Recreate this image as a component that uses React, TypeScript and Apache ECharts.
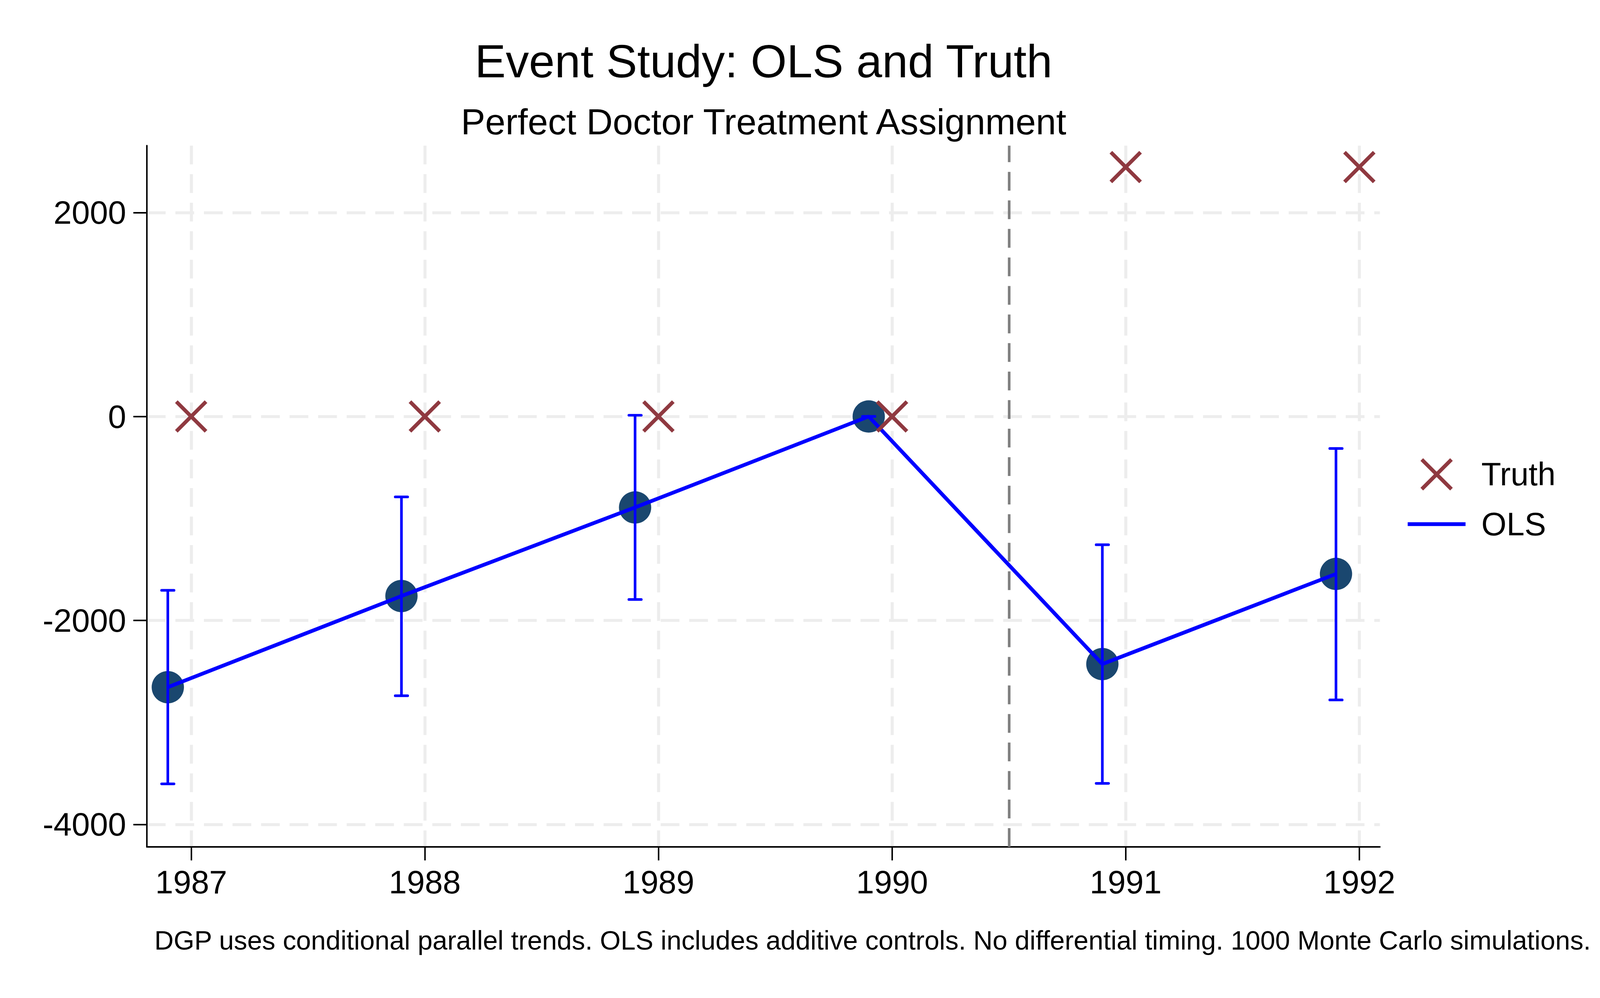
import React, { useEffect, useRef, useState } from "react";
import * as echarts from "echarts";

// ---- data ----
const years = [1987, 1988, 1989, 1990, 1991, 1992];
const olsX = [1986.9, 1987.9, 1988.9, 1989.9, 1990.9, 1991.9];
const olsEst = [-2655, -1761, -892, 0, -2428, -1544];
const ciLow = [-3603, -2739, -1795, 0, -3598, -2780];
const ciHigh = [-1705, -789, 12, 0, -1258, -314];
const truth = [0, 0, 0, 0, 2446, 2446];
const yTicks = [-4000, -2000, 0, 2000];
const treatLine = 1990.5;

const titleText = "Event Study: OLS and Truth";
const subtitleText = "Perfect Doctor Treatment Assignment";
const noteText =
  "DGP uses conditional parallel trends. OLS includes additive controls. No differential timing. 1000 Monte Carlo simulations.";

const FONT = "'Liberation Sans', Arial, Helvetica, sans-serif";
const BLUE = "#0000ff";
const NAVY = "#1a476f";
const CRAN = "#8f3940";
const GRID = "#ededed";

const REF_W = 4260;
const REF_H = 2556;

export default function App() {
  const ref = useRef<HTMLDivElement>(null);
  const [size] = useState(() => ({
    w: typeof window !== "undefined" ? window.innerWidth : REF_W,
    h: typeof window !== "undefined" ? window.innerHeight : REF_H,
  }));

  useEffect(() => {
    if (!ref.current) return;
    const chart = echarts.init(ref.current, undefined, { renderer: "svg" });
    const k = size.w / REF_W;
    const ky = size.h / REF_H;
    const s = (v: number) => v * k;
    const sy = (v: number) => v * ky;

    const olsData = olsX.map((x, i) => [x, olsEst[i]]);
    const ciData = olsX.map((x, i) => [x, ciLow[i], ciHigh[i]]);
    const truthData = years.map((x, i) => [x, truth[i]]);
    const dash = [s(50), s(26)];

    const option: any = {
      animation: false,
      backgroundColor: "#ffffff",
      grid: { left: s(391), right: s(586), top: sy(373), bottom: sy(387), containLabel: false },
      graphic: [
        {
          type: "text",
          x: s(2033),
          y: sy(157),
          style: {
            text: titleText,
            font: `${s(123.5)}px ${FONT}`,
            fill: "#000",
            textAlign: "center",
            textVerticalAlign: "middle",
          },
        },
        {
          type: "text",
          x: s(2033),
          y: sy(312),
          style: {
            text: subtitleText,
            font: `${s(97)}px ${FONT}`,
            fill: "#000",
            textAlign: "center",
            textVerticalAlign: "middle",
          },
        },
        {
          type: "text",
          x: s(411),
          y: sy(2408),
          style: {
            text: noteText,
            font: `${s(71)}px ${FONT}`,
            fill: "#000",
            textAlign: "left",
            textVerticalAlign: "middle",
          },
        },
      ],
      legend: {
        orient: "vertical",
        left: s(3743),
        top: sy(1172),
        itemWidth: s(154),
        itemHeight: s(79),
        itemGap: s(45),
        padding: 0,
        selectedMode: false,
        textStyle: {
          fontSize: s(86),
          fontFamily: FONT,
          color: "#000",
          rich: { g: { width: s(37), fontSize: s(86), fontFamily: FONT } },
        },
        formatter: (n: string) => "{g| }" + n,
        data: [
          {
            name: "Truth",
            itemStyle: { borderWidth: s(10), borderColor: CRAN, color: "rgba(0,0,0,0)", opacity: 1 },
          },
          {
            name: "OLS",
            lineStyle: { width: s(10), color: BLUE },
            itemStyle: { color: "rgba(0,0,0,0)", borderWidth: 0, borderColor: "rgba(0,0,0,0)" },
          },
        ],
      },
      xAxis: {
        type: "value",
        min: 1986.8103,
        max: 1992.088,
        axisLine: { show: true, onZero: false, lineStyle: { color: "#000", width: s(4) } },
        axisTick: { show: true, length: s(36), lineStyle: { color: "#000", width: s(4) }, customValues: years },
        axisLabel: {
          customValues: years,
          formatter: (v: number) => String(v),
          fontSize: s(86),
          fontFamily: FONT,
          color: "#000",
          margin: s(51),
        },
        splitLine: { show: true, lineStyle: { color: GRID, width: s(8), type: dash } },
      },
      yAxis: {
        type: "value",
        min: -4221,
        max: 2656,
        axisLine: { show: true, onZero: false, lineStyle: { color: "#000", width: s(4) } },
        axisTick: { show: true, length: s(36), lineStyle: { color: "#000", width: s(4) }, customValues: yTicks },
        axisLabel: {
          customValues: yTicks,
          formatter: (v: number) => String(v),
          fontSize: s(87),
          fontFamily: FONT,
          color: "#000",
          margin: s(55),
        },
        splitLine: { show: true, lineStyle: { color: GRID, width: s(8), type: dash } },
      },
      series: [
        {
          name: "olsPoints",
          type: "scatter",
          data: olsData,
          symbol: "circle",
          symbolSize: s(86),
          itemStyle: { color: NAVY, opacity: 1 },
          z: 2,
          silent: true,
          markLine: {
            silent: true,
            symbol: ["none", "none"],
            label: { show: false },
            lineStyle: { color: "#808080", width: s(7), type: dash, opacity: 1 },
            data: [{ xAxis: treatLine }],
          },
        },
        {
          name: "ci",
          type: "custom",
          data: ciData,
          z: 3,
          silent: true,
          renderItem: (params: any, api: any) => {
            const x = api.value(0);
            const lo = api.value(1);
            const hi = api.value(2);
            const pLo = api.coord([x, lo]);
            const pHi = api.coord([x, hi]);
            const half = s(16.5);
            const st = { stroke: BLUE, lineWidth: s(7) };
            const cap = { stroke: BLUE, lineWidth: s(7), lineCap: "round" };
            return {
              type: "group",
              children: [
                { type: "line", shape: { x1: pLo[0], y1: pLo[1], x2: pHi[0], y2: pHi[1] }, style: st },
                { type: "line", shape: { x1: pLo[0] - half, y1: pLo[1], x2: pLo[0] + half, y2: pLo[1] }, style: cap },
                { type: "line", shape: { x1: pHi[0] - half, y1: pHi[1], x2: pHi[0] + half, y2: pHi[1] }, style: cap },
              ],
            };
          },
        },
        {
          name: "OLS",
          type: "line",
          data: olsData,
          symbol: "none",
          lineStyle: { color: BLUE, width: s(10) },
          itemStyle: { color: BLUE },
          z: 4,
          silent: true,
        },
        {
          name: "Truth",
          type: "scatter",
          data: truthData,
          symbol: "path://M0,0L100,100M100,0L0,100",
          symbolSize: s(79),
          itemStyle: { color: "rgba(0,0,0,0)", borderColor: CRAN, borderWidth: s(10), opacity: 1 },
          z: 5,
          silent: true,
        },
      ],
    };

    chart.setOption(option);
    return () => chart.dispose();
  }, [size]);

  return (
    <div
      ref={ref}
      style={{ position: "fixed", left: 0, top: 0, width: size.w, height: size.h, background: "#fff" }}
    />
  );
}
